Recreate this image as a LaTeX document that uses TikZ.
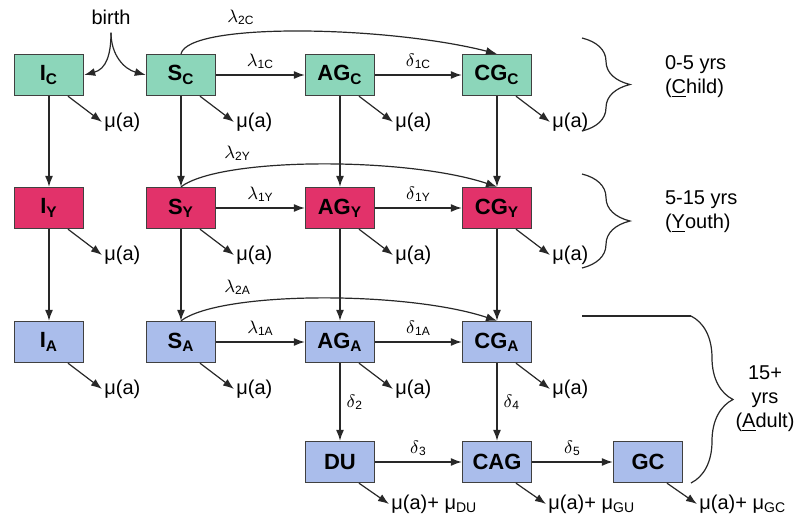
\documentclass[tikz,border=0pt]{standalone}
\usepackage{fontspec}
\setmainfont{Liberation Sans}
\usetikzlibrary{arrows.meta,calc,decorations.pathreplacing}

\definecolor{kidcol}{RGB}{140,214,186}
\definecolor{youthcol}{RGB}{226,50,106}
\definecolor{adultcol}{RGB}{170,189,235}
\definecolor{linecol}{RGB}{40,40,40}

\newcommand{\cmp}[2]{\textbf{#1\textsubscript{#2}}}

\begin{document}
\begin{tikzpicture}[
   x=0.5pt, y=-0.5pt,
   box/.style={draw=black!75, line width=0.7pt, minimum width=34.5pt,
               minimum height=20.5pt, inner sep=0pt,
               font=\fontsize{11}{13}\selectfont},
   cbox/.style={box, fill=kidcol},
   ybox/.style={box, fill=youthcol},
   abox/.style={box, fill=adultcol},
   flow/.style={draw=linecol, line width=0.6pt, -{Latex[length=5.5pt,width=4pt]}},
   mu/.style={anchor=west, inner sep=1pt, font=\fontsize{10}{12}\selectfont},
   rate/.style={inner sep=1pt, font=\fontsize{9}{11}\selectfont},
   agetxt/.style={font=\fontsize{10}{12}\selectfont},
   brc/.style={draw=linecol, line width=0.6pt, decorate}]

\useasboundingbox (0,0) rectangle (810,515);

% compartments
\node[cbox] (IC)  at (49,75)   {\cmp{I}{C}};
\node[cbox] (SC)  at (181,75)  {\cmp{S}{C}};
\node[cbox] (AGC) at (340,75)  {\cmp{AG}{C}};
\node[cbox] (CGC) at (497,75)  {\cmp{CG}{C}};

\node[ybox] (IY)  at (49,208)  {\cmp{I}{Y}};
\node[ybox] (SY)  at (181,208) {\cmp{S}{Y}};
\node[ybox] (AGY) at (340,208) {\cmp{AG}{Y}};
\node[ybox] (CGY) at (497,208) {\cmp{CG}{Y}};

\node[abox] (IA)  at (49,342)  {\cmp{I}{A}};
\node[abox] (SA)  at (181,342) {\cmp{S}{A}};
\node[abox] (AGA) at (340,342) {\cmp{AG}{A}};
\node[abox] (CGA) at (497,342) {\cmp{CG}{A}};

\node[abox] (DU)  at (340,462) {\textbf{DU}};
\node[abox] (CAG) at (497,462) {\textbf{CAG}};
\node[abox] (GC)  at (648,462) {\textbf{GC}};

% births
\node[inner sep=4pt, font=\fontsize{10}{12}\selectfont] (birth) at (111,17) {birth};
\draw[flow] (birth.south) .. controls +(0,22) and +(22,-6) .. (IC.east);
\draw[flow] (birth.south) .. controls +(0,22) and +(-22,-6) .. (SC.west);

% infection and progression
\draw[flow] (SC) -- node[rate, above=2pt] {$\lambda$\textsubscript{1C}} (AGC);
\draw[flow] (AGC) -- node[rate, above=2pt] {$\delta$\textsubscript{1C}} (CGC);
\draw[flow] (SY) -- node[rate, above=2pt] {$\lambda$\textsubscript{1Y}} (AGY);
\draw[flow] (AGY) -- node[rate, above=2pt] {$\delta$\textsubscript{1Y}} (CGY);
\draw[flow] (SA) -- node[rate, above=2pt] {$\lambda$\textsubscript{1A}} (AGA);
\draw[flow] (AGA) -- node[rate, above=2pt] {$\delta$\textsubscript{1A}} (CGA);

\draw[flow] (SC.north) .. controls +(8,-32) and +(-110,-28) .. (CGC.north)
   node[rate, pos=0.33, above=3pt] {$\lambda$\textsubscript{2C}};
\draw[flow] (SY.north) .. controls +(40,-30) and +(-90,-30) .. (CGY.north)
   node[rate, pos=0.26, above=3pt] {$\lambda$\textsubscript{2Y}};
\draw[flow] (SA.north) .. controls +(40,-30) and +(-90,-30) .. (CGA.north)
   node[rate, pos=0.26, above=3pt] {$\lambda$\textsubscript{2A}};

% ageing
\draw[flow] (IC) -- (IY);
\draw[flow] (SC) -- (SY);
\draw[flow] (AGC) -- (AGY);
\draw[flow] (CGC) -- (CGY);
\draw[flow] (IY) -- (IA);
\draw[flow] (SY) -- (SA);
\draw[flow] (AGY) -- (AGA);
\draw[flow] (CGY) -- (CGA);

% adult disease
\draw[flow] (AGA) -- node[rate, right=2pt] {$\delta$\textsubscript{2}} (DU);
\draw[flow] (CGA) -- node[rate, right=2pt] {$\delta$\textsubscript{4}} (CAG);
\draw[flow] (DU) -- node[rate, above=2pt] {$\delta$\textsubscript{3}} (CAG);
\draw[flow] (CAG) -- node[rate, above=2pt] {$\delta$\textsubscript{5}} (GC);

% deaths
\foreach \n in {IC,SC,AGC,CGC,IY,SY,AGY,CGY,IA,SA,AGA,CGA}
  {\node[mu] (m\n) at ($(\n)+(53,47)$) {μ(a)};
   \draw[flow] ($(\n.south)+(19,0)$) -- (m\n.west);}
\foreach \n/\s in {DU/DU,CAG/GU,GC/GC}
  {\node[mu] (m\n) at ($(\n)+(49,42)$) {μ(a)+ μ\textsubscript{\s}};
   \draw[flow] ($(\n.south)+(19,0)$) -- (m\n.west);}

% age groups
\draw[brc, decoration={brace, amplitude=24pt}] (582,38) -- (582,131);
\draw[brc, decoration={brace, amplitude=24pt}] (582,174) -- (582,268);
\draw[brc] (582,316) -- (691,316);
\draw[brc, decoration={brace, amplitude=21pt}] (691,316) -- (691,483);

\node[agetxt, anchor=west, align=left] (kid) at (658,77) {0-5 yrs\\(\underline{C}hild)};
\node[agetxt, anchor=west, align=left] (youth) at (658,212) {5-15 yrs\\(\underline{Y}outh)};
\node[agetxt, align=center] (adult) at (765,399) {15+\\yrs\\(\underline{A}dult)};

\end{tikzpicture}
\end{document}
